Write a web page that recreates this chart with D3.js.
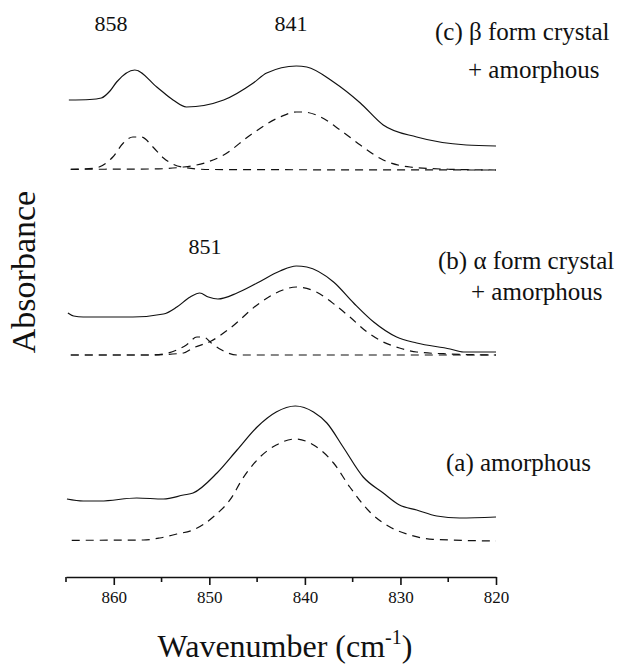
<!DOCTYPE html>
<html>
<head>
<meta charset="utf-8">
<script src="https://cdn.jsdelivr.net/npm/d3@7"></script>
<style>
  html, body { margin: 0; padding: 0; background: #fff; }
</style>
</head>
<body>
<svg id="chart" width="626" height="668"></svg>
<script>
// ---- data (wavenumber cm-1, absorbance in arbitrary offset units) ----
const tickValues = [860, 850, 840, 830, 820];
const minorTicks = [865, 855, 845, 835, 825];

// (c) beta form crystal + amorphous
const cObserved = [[864.7,4.77],[862.5,4.775],[861.3,4.79],[860.4,4.86],[859.7,4.95],[857.8,5.07],[855.5,4.90],[853.8,4.77],[852.4,4.70],[848.5,4.77],[845.4,4.94],[844.0,5.04],[840.9,5.11],[839.8,5.10],[837.0,4.95],[834.2,4.74],[831.8,4.52],[828.3,4.40],[823.1,4.32],[820.0,4.31]];
const cAmorphous = [[864.5,4.077],[856.0,4.08],[852.7,4.10],[850.5,4.14],[848.5,4.22],[845.7,4.42],[842.6,4.60],[840.9,4.65],[840.2,4.65],[838.8,4.62],[836.3,4.47],[834.2,4.32],[831.8,4.17],[829.0,4.10],[824.8,4.077],[820.0,4.07]];
const cCrystal = [[864.5,4.077],[862.1,4.087],[860.1,4.20],[859.0,4.34],[858.0,4.40],[857.1,4.40],[855.9,4.30],[854.8,4.19],[852.9,4.10],[850.0,4.075],[820.0,4.07]];

// (b) alpha form crystal + amorphous
const bObserved = [[864.8,2.64],[864.2,2.61],[863.2,2.60],[858.0,2.60],[854.8,2.63],[853.4,2.70],[852.0,2.80],[851.0,2.84],[850.1,2.80],[849.1,2.78],[847.1,2.84],[845.0,2.94],[842.6,3.06],[840.9,3.11],[839.8,3.10],[837.0,2.95],[834.9,2.74],[832.8,2.55],[830.4,2.40],[828.3,2.34],[824.8,2.28],[823.4,2.25],[820.0,2.25]];
const bAmorphous = [[864.5,2.22],[856.2,2.22],[852.7,2.24],[851.7,2.29],[849.8,2.36],[847.8,2.49],[845.0,2.72],[842.3,2.87],[840.9,2.90],[838.8,2.85],[836.7,2.71],[835.3,2.60],[833.5,2.45],[831.8,2.35],[830.1,2.29],[828.3,2.25],[824.8,2.23],[820.0,2.22]];
const bCrystal = [[864.5,2.22],[856.2,2.22],[854.8,2.23],[853.4,2.27],[852.4,2.32],[851.3,2.40],[850.6,2.40],[849.8,2.34],[848.7,2.27],[847.1,2.22],[820.0,2.22]];

// (a) amorphous
const aObserved = [[864.9,0.78],[863.2,0.76],[861.4,0.76],[857.6,0.79],[854.8,0.78],[852.7,0.82],[851.7,0.84],[849.2,1.04],[847.1,1.27],[845.0,1.50],[843.0,1.65],[841.0,1.71],[839.1,1.65],[837.7,1.54],[836.0,1.30],[833.9,1.00],[831.8,0.84],[830.1,0.72],[828.3,0.67],[826.2,0.61],[823.8,0.59],[820.0,0.60]];
const aAmorphous = [[864.4,0.367],[856.9,0.37],[855.2,0.39],[853.4,0.43],[851.7,0.47],[849.6,0.60],[847.5,0.82],[846.8,0.94],[845.0,1.17],[843.0,1.32],[841.0,1.38],[839.1,1.32],[837.0,1.14],[835.3,0.90],[833.2,0.65],[831.1,0.50],[829.0,0.42],[826.6,0.377],[820.0,0.36]];

const solidSeries = [cObserved, bObserved, aObserved];
const dashedSeries = [cAmorphous, cCrystal, bAmorphous, bCrystal, aAmorphous];

const FONT = "Liberation Serif";

// ---- drawing ----
const svg = d3.select("#chart");
const x = d3.scaleLinear().domain([865, 820]).range([66, 496]);
const y = d3.scaleLinear().domain([0, 5.2]).range([577, 57]);

const line = d3.line()
  .x(d => x(d[0]))
  .y(d => y(d[1]))
  .curve(d3.curveMonotoneX);

svg.append("g").selectAll("path")
  .data(solidSeries).join("path")
  .attr("d", line)
  .attr("fill", "none")
  .attr("stroke", "#111")
  .attr("stroke-width", 1.2);

svg.append("g").selectAll("path")
  .data(dashedSeries).join("path")
  .attr("d", line)
  .attr("fill", "none")
  .attr("stroke", "#111")
  .attr("stroke-width", 1.2)
  .attr("stroke-dasharray", "8,6");

// x axis
const axisG = svg.append("g").attr("transform", "translate(0,577)");
axisG.call(d3.axisBottom(x).tickValues(tickValues).tickSize(8).tickPadding(6).tickSizeOuter(0).tickFormat(d3.format("d")));
axisG.attr("font-family", FONT).attr("font-size", 17);
axisG.select(".domain").attr("stroke", "#111").attr("stroke-width", 1.6);
axisG.selectAll(".tick line").attr("stroke", "#111").attr("stroke-width", 1.6);
axisG.selectAll(".tick text").attr("fill", "#111");
axisG.selectAll("line.minor")
  .data(minorTicks).join("line")
  .attr("class", "minor")
  .attr("x1", d => x(d)).attr("x2", d => x(d))
  .attr("y1", 0).attr("y2", 5)
  .attr("stroke", "#111").attr("stroke-width", 1.6);

// axis titles
const xTitle = svg.append("text")
  .attr("x", 285).attr("y", 657)
  .attr("text-anchor", "middle")
  .attr("font-family", FONT)
  .attr("font-size", 32)
  .attr("fill", "#111");
xTitle.append("tspan").text("Wavenumber (cm");
xTitle.append("tspan").attr("dy", -13).attr("font-size", 20).text("-1");
xTitle.append("tspan").attr("dy", 13).text(")");

svg.append("text")
  .attr("transform", "translate(35,272) rotate(-90)")
  .attr("text-anchor", "middle")
  .attr("font-family", FONT)
  .attr("font-size", 34)
  .attr("fill", "#111")
  .text("Absorbance");

// peak labels
const peakLabels = [["858", 111, 31], ["841", 291, 31], ["851", 205, 254]];
svg.selectAll("text.peak").data(peakLabels).join("text")
  .attr("class", "peak")
  .attr("x", d => d[1]).attr("y", d => d[2])
  .attr("text-anchor", "middle")
  .attr("font-family", FONT)
  .attr("font-size", 22)
  .attr("fill", "#111")
  .text(d => d[0]);

// panel labels
const panelLabels = [
  ["(c) β form crystal", 435, 40],
  ["+ amorphous", 468, 78],
  ["(b) α form crystal", 438, 269],
  ["+ amorphous", 471, 300],
  ["(a) amorphous", 446, 471]
];
svg.selectAll("text.panel").data(panelLabels).join("text")
  .attr("class", "panel")
  .attr("x", d => d[1]).attr("y", d => d[2])
  .attr("text-anchor", "start")
  .attr("font-family", FONT)
  .attr("font-size", 25)
  .attr("fill", "#111")
  .text(d => d[0]);
</script>
</body>
</html>
